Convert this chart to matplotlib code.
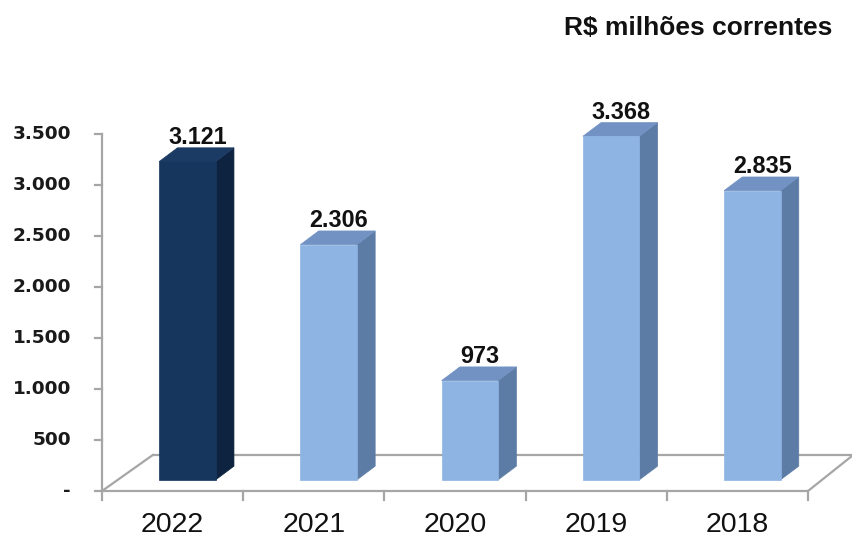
import matplotlib
matplotlib.use("Agg")
import matplotlib.pyplot as plt
from matplotlib.patches import Polygon

# ---- data ----
categories = ["2022", "2021", "2020", "2019", "2018"]
values = [3121, 2306, 973, 3368, 2835]
value_labels = ["3.121", "2.306", "973", "3.368", "2.835"]
yticks = [0, 500, 1000, 1500, 2000, 2500, 3000, 3500]
ytick_labels = ["-", "500", "1.000", "1.500", "2.000", "2.500", "3.000", "3.500"]
highlight = [True, False, False, False, False]
title = "R$ milhões correntes"

# ---- styles ----
W, H = 853, 537
px_x = 141.2          # pixels per category unit
px_y = 0.102          # pixels per value unit
x0_px, y0_px = 102, 491

fig = plt.figure(figsize=(W / 100, H / 100), dpi=100)
ax = fig.add_axes([0, 0, 1, 1])
ax.set_xlim(-x0_px / px_x, (W - x0_px) / px_x)
ax.set_ylim(-(H - y0_px) / px_y, y0_px / px_y)
ax.axis("off")

depth_dx, depth_dy = 0.34, 353.0
f_front, f_back = 0.31, 0.69
bar_w = 0.40
floor_col = "#A6A6A6"

dark = dict(front="#17365D", side="#0E2340", top="#1C3B64")
light = dict(front="#8DB4E2", side="#5C7CA6", top="#7292C4")

n = len(categories)
# floor
ax.plot([0, n], [0, 0], color=floor_col, lw=1.6, zorder=1, solid_capstyle="butt")
ax.plot([depth_dx + 0.02, n + depth_dx - 0.02], [depth_dy, depth_dy], color=floor_col, lw=1.6, zorder=1)
ax.plot([0, depth_dx + 0.02], [0, depth_dy], color=floor_col, lw=1.6, zorder=1)
ax.plot([n, n + depth_dx - 0.02], [0, depth_dy], color=floor_col, lw=1.6, zorder=1)
for i in range(n + 1):
    ax.plot([i, i], [0, -85], color=floor_col, lw=1.6, zorder=1)

# y axis
ax.plot([0, 0], [0, yticks[-1]], color=floor_col, lw=1.6, zorder=1)
for t, lab in zip(yticks, ytick_labels):
    ax.plot([-0.05, 0], [t, t], color=floor_col, lw=1.6, zorder=1)
    ax.text(-0.22, t, lab, ha="right", va="center", fontsize=13.3,
            fontweight="bold", family="DejaVu Sans", color="#1a1a1a")

# bars
ddx = (f_back - f_front) * depth_dx
ddy = (f_back - f_front) * depth_dy
for i, (v, lab, hl) in enumerate(zip(values, value_labels, highlight)):
    c = dark if hl else light
    xc = i + 0.5 + f_front * depth_dx
    xl, xr = xc - bar_w / 2, xc + bar_w / 2
    yb = f_front * depth_dy
    yt = yb + v
    side = Polygon([(xr, yb), (xr + ddx, yb + ddy), (xr + ddx, yt + ddy), (xr, yt)],
                   closed=True, facecolor=c["side"], edgecolor=c["side"], lw=0.5, zorder=2)
    top = Polygon([(xl, yt), (xl + ddx, yt + ddy), (xr + ddx, yt + ddy), (xr, yt)],
                  closed=True, facecolor=c["top"], edgecolor=c["top"], lw=0.5, zorder=2)
    front = Polygon([(xl, yb), (xr, yb), (xr, yt), (xl, yt)],
                    closed=True, facecolor=c["front"], edgecolor=c["front"], lw=0.5, zorder=3)
    for p in (side, top, front):
        ax.add_patch(p)
    ax.text(xc + ddx * 0.55, yt + ddy + 35, lab, ha="center", va="baseline",
            fontsize=16.8, fontweight="bold", family="Liberation Sans", color="#111111")
    ax.text(i + 0.5, -335, categories[i], ha="center", va="center",
            fontsize=20.5, family="Liberation Sans", color="#111111")

fig.text(832 / W, 1 - 35 / H, title, ha="right", va="baseline", fontsize=19,
         fontweight="bold", family="Liberation Sans", color="#111111")

fig.savefig("out.png", dpi=100)
